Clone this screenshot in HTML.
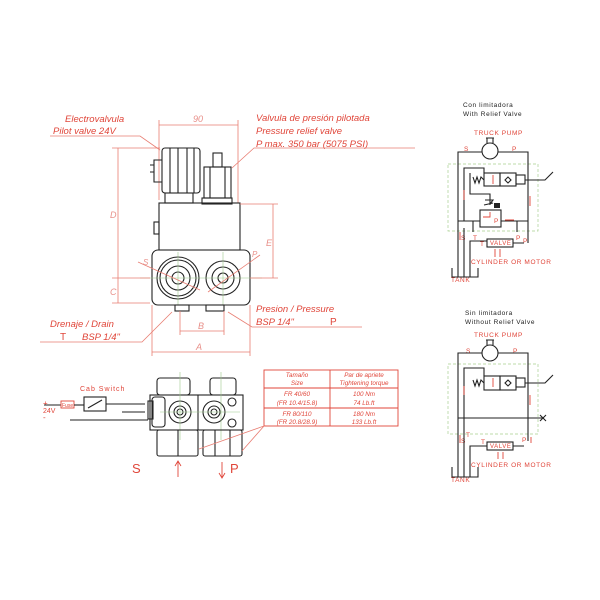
<!DOCTYPE html>
<html><head><style>
html,body{margin:0;padding:0;background:#fff}
svg{display:block}
.r{fill:#e0463a;font-family:"Liberation Sans",sans-serif;font-style:italic}
.rn{fill:#e0463a;font-family:"Liberation Sans",sans-serif}
.k{fill:none;stroke:#222;stroke-width:1.1}
.d{fill:none;stroke:#e87d72;stroke-width:.8}
.g{fill:none;stroke:#9cc98a;stroke-width:.6}
.gd{fill:none;stroke:#a7cf8f;stroke-width:.7;stroke-dasharray:3,2}
.rl{fill:none;stroke:#e0463a;stroke-width:.9}
</style></head><body>
<svg width="600" height="600" viewBox="0 0 600 600" xmlns="http://www.w3.org/2000/svg">
<text class="r" x="65" y="122" font-size="9.5">Electrovalvula</text>
<text class="r" x="53" y="134" font-size="9.5">Pilot valve 24V</text>
<polyline class="d" points="50,136 140,136 160,150"/>
<text class="r" x="256" y="121" font-size="9.5">Valvula de presión pilotada</text>
<text class="r" x="256" y="134" font-size="9.5">Pressure relief valve</text>
<text class="r" x="256" y="147" font-size="9.5">P max. 350 bar (5075 PSI)</text>
<polyline class="d" points="415,148 254,148 232,168"/>
<line class="d" x1="159" y1="125" x2="238" y2="125"/>
<line class="d" x1="159" y1="120" x2="159" y2="200"/>
<line class="d" x1="238" y1="120" x2="238" y2="203"/>
<text class="r" x="193" y="122" font-size="9" style="fill:#e8908a">90</text>
<rect class="k" x="162" y="148" width="38" height="45" rx="3"/>
<line class="k" x1="170" y1="148" x2="170" y2="193"/><line class="k" x1="178" y1="148" x2="178" y2="193"/>
<line class="k" x1="187" y1="148" x2="187" y2="193"/><line class="k" x1="194" y1="148" x2="194" y2="193"/>
<path class="k" d="M162 160 h-8 v22 h8 M150 165 h4 M150 172 h4"/>
<rect class="k" x="165" y="193" width="28" height="10"/>
<rect class="k" x="213" y="153" width="9" height="14"/>
<rect class="k" x="204" y="167" width="27" height="31"/>
<line class="k" x1="210" y1="167" x2="210" y2="198"/><line class="k" x1="225" y1="167" x2="225" y2="198"/>
<rect class="k" x="202" y="198" width="30" height="6"/>
<rect class="k" x="159" y="203" width="81" height="47"/>
<rect class="k" x="154" y="222" width="5" height="12"/>
<rect class="k" x="152" y="250" width="98" height="55" rx="6"/>
<circle class="k" cx="178" cy="278" r="21"/><circle class="k" cx="178" cy="278" r="18"/>
<circle class="k" cx="178" cy="278" r="12"/><circle class="k" cx="178" cy="278" r="6"/>
<circle class="k" cx="223" cy="278" r="17"/><circle class="k" cx="223" cy="278" r="11"/><circle class="k" cx="223" cy="278" r="5"/>
<line class="g" x1="140" y1="278" x2="262" y2="278"/><line class="g" x1="178" y1="252" x2="178" y2="305"/><line class="g" x1="223" y1="252" x2="223" y2="305"/>
<rect class="k" x="175" y="305" width="14" height="6"/><rect class="k" x="206" y="305" width="18" height="6"/>
<line class="d" x1="138" y1="262" x2="200" y2="290"/><text class="r" x="143" y="265" font-size="8" style="fill:#e8908a">S</text>
<line class="d" x1="260" y1="255" x2="208" y2="292"/><text class="r" x="252" y="257" font-size="8" style="fill:#e8908a">P</text>
<line class="d" x1="118" y1="148" x2="118" y2="303"/>
<line class="d" x1="112" y1="148" x2="160" y2="148"/><line class="d" x1="112" y1="278" x2="150" y2="278"/><line class="d" x1="112" y1="303" x2="150" y2="303"/>
<text class="r" x="110" y="218" font-size="9" style="fill:#e8908a">D</text>
<text class="r" x="110" y="295" font-size="9" style="fill:#e8908a">C</text>
<line class="d" x1="273" y1="204" x2="273" y2="278"/><line class="d" x1="240" y1="204" x2="278" y2="204"/><line class="d" x1="250" y1="278" x2="278" y2="278"/>
<text class="r" x="266" y="246" font-size="9" style="fill:#e8908a">E</text>
<line class="d" x1="180" y1="331" x2="224" y2="331"/><line class="d" x1="180" y1="311" x2="180" y2="335"/><line class="d" x1="224" y1="311" x2="224" y2="335"/>
<text class="r" x="198" y="329" font-size="9" style="fill:#e8908a">B</text>
<line class="d" x1="152" y1="352" x2="250" y2="352"/><line class="d" x1="152" y1="305" x2="152" y2="356"/><line class="d" x1="250" y1="305" x2="250" y2="356"/>
<text class="r" x="196" y="350" font-size="9" style="fill:#e8908a">A</text>
<text class="r" x="256" y="312" font-size="9.5">Presion / Pressure</text>
<text class="r" x="256" y="325" font-size="9.5">BSP 1/4"</text>
<text class="rn" x="330" y="325" font-size="10">P</text>
<polyline class="d" points="228,312 252,327 362,327"/>
<text class="r" x="50" y="327" font-size="9.5">Drenaje / Drain</text>
<text class="rn" x="60" y="340" font-size="10">T</text>
<text class="r" x="82" y="340" font-size="9.5">BSP 1/4"</text>
<polyline class="d" points="40,342 142,342 172,312"/>

<text class="rn" x="80" y="391" font-size="7" letter-spacing="1">Cab Switch</text>
<text class="rn" x="43" y="406" font-size="8">+</text><text class="rn" x="43" y="413" font-size="7">24V</text><text class="rn" x="43" y="420" font-size="8">-</text>
<line class="k" x1="44" y1="405" x2="61" y2="405"/>
<rect class="rl" x="61" y="401" width="13" height="7"/><text class="rn" x="62" y="407" font-size="5">Fuse</text>
<line class="k" x1="74" y1="405" x2="84" y2="405"/>
<rect class="k" x="84" y="397" width="22" height="14"/><line class="k" x1="88" y1="408" x2="102" y2="400"/>
<line class="k" x1="106" y1="404" x2="145" y2="404"/>
<line class="k" x1="122" y1="412" x2="145" y2="412"/><line class="k" x1="70" y1="420" x2="148" y2="420"/>
<rect class="k" x="148" y="401" width="5" height="18"/>
<rect class="k" x="157" y="378" width="33" height="17" rx="3"/><rect class="k" x="210" y="378" width="26" height="17" rx="3"/>
<rect class="k" x="150" y="395" width="93" height="35"/>
<rect class="k" x="152" y="397" width="13" height="30" rx="3"/>
<line class="k" x1="198" y1="395" x2="198" y2="430"/>
<circle class="k" cx="180" cy="412" r="11"/><circle class="k" cx="180" cy="412" r="6"/><circle class="k" cx="180" cy="412" r="3"/>
<circle class="k" cx="214" cy="412" r="11"/><circle class="k" cx="214" cy="412" r="6"/><circle class="k" cx="214" cy="412" r="3"/>
<circle class="k" cx="232" cy="402" r="4"/><circle class="k" cx="232" cy="423" r="4"/>
<line class="g" x1="180" y1="372" x2="180" y2="440"/><line class="g" x1="221" y1="372" x2="221" y2="440"/><line class="g" x1="160" y1="412" x2="240" y2="412"/>
<rect class="k" x="157" y="430" width="41" height="26" rx="2"/><line class="k" x1="178" y1="430" x2="178" y2="456"/>
<rect class="k" x="203" y="430" width="39" height="26" rx="2"/><line class="k" x1="215" y1="430" x2="215" y2="456"/><line class="k" x1="230" y1="430" x2="230" y2="456"/>
<text class="rn" x="132" y="473" font-size="13">S</text>
<path class="rl" d="M178 477 V462 M175 466 L178 461 L181 466"/>
<text class="rn" x="230" y="473" font-size="13">P</text>
<path class="rl" d="M222 462 V477 M219 473 L222 478 L225 473"/>
<rect class="rl" x="264" y="370" width="134" height="56"/>
<line class="rl" x1="264" y1="388" x2="398" y2="388"/><line class="rl" x1="264" y1="408" x2="398" y2="408"/><line class="rl" x1="330" y1="370" x2="330" y2="426"/>
<g class="r" font-size="6.3" text-anchor="middle">
<text x="297" y="377">Tamaño</text><text x="297" y="385">Size</text>
<text x="364" y="377">Par de apriete</text><text x="364" y="385">Tightening torque</text>
<text x="297" y="396">FR 40/60</text><text x="297" y="405">(FR 10.4/15.8)</text>
<text x="364" y="396">100 Nm</text><text x="364" y="405">74 Lb.ft</text>
<text x="297" y="416">FR 80/110</text><text x="297" y="424">(FR 20.8/28.9)</text>
<text x="364" y="416">180 Nm</text><text x="364" y="424">133 Lb.ft</text>
</g>
<polyline class="d" points="199,449 264,426 242,451"/>

<g font-family="Liberation Sans,sans-serif" font-size="6.5" letter-spacing=".6">
<text x="463" y="107" fill="#222">Con limitadora</text><text x="463" y="116" fill="#222">With Relief Valve</text>
<text x="474" y="135" fill="#e0463a">TRUCK PUMP</text>
<text x="464" y="151" fill="#e0463a">S</text><text x="512" y="151" fill="#e0463a">P</text>
<text x="461" y="240" fill="#e0463a">S</text><text x="473" y="240" fill="#e0463a">T</text><text x="480" y="246" fill="#e0463a">T</text>
<text x="516" y="240" fill="#e0463a">P</text><text x="523" y="243" fill="#e0463a">P</text>
<text x="471" y="264" fill="#e0463a">CYLINDER OR MOTOR</text>
<text x="451" y="282" fill="#e0463a">TANK</text>
<text x="490" y="245" fill="#e0463a" font-size="6">VALVE</text>
<text x="494" y="223" fill="#e0463a">P</text>
</g>
<rect class="gd" x="448" y="164" width="90" height="67"/>
<circle class="k" cx="490" cy="151" r="8"/><path class="k" d="M487 143 v-5 M493 143 v-5 M486 138 h8"/>
<path class="k" d="M458 277 V152 H482 M498 152 H528 V243"/>
<path class="k" d="M464 277 V228 M464 221 V168 H484 V173"/>
<rect class="k" x="484" y="173" width="16" height="13"/><rect class="k" x="500" y="173" width="16" height="13"/><rect class="k" x="516" y="175" width="9" height="9"/>
<path class="k" d="M484 180 l-3 -3 l-2 6 l-2 -6 l-2 6 l-2 -6 M525 180 H545 l8 -8"/>
<path class="k" d="M505 180 l3 -3 l3 3 l-3 3 z"/>
<path class="k" d="M470 173 V194 H490 V205"/>
<rect class="k" x="480" y="210" width="21" height="17"/>
<path class="k" d="M485 200 l8 0 l-3 4 M484 205 l9 -2"/><rect x="494" y="203" width="6" height="5" fill="#222"/>
<path class="k" d="M458 221 H480 M501 221 H528 M473 221 V232 M517 221 V232"/>
<path class="rl" d="M490 212 V217 H483 M505 220 H514 M493 184 V175 M464 190 V200 M530 196 V206 M460 240 V232"/>
<rect class="k" x="487" y="239" width="26" height="8"/>
<path class="k" d="M470 277 V241 H487 M513 243 H524"/>
<path class="rl" d="M495 249 V257 M500 249 V257"/>
<path class="k" d="M452 268 V277 H478 V268"/>

<g font-family="Liberation Sans,sans-serif" font-size="6.5" letter-spacing=".6">
<text x="465" y="315" fill="#222">Sin limitadora</text><text x="465" y="324" fill="#222">Without Relief Valve</text>
<text x="474" y="337" fill="#e0463a">TRUCK PUMP</text>
<text x="466" y="353" fill="#e0463a">S</text><text x="513" y="353" fill="#e0463a">P</text>
<text x="461" y="443" fill="#e0463a">S</text><text x="466" y="437" fill="#e0463a">T</text><text x="481" y="444" fill="#e0463a">T</text>
<text x="522" y="442" fill="#e0463a">P</text>
<text x="471" y="467" fill="#e0463a">CYLINDER OR MOTOR</text>
<text x="451" y="482" fill="#e0463a">TANK</text>
<text x="490" y="448" fill="#e0463a" font-size="6">VALVE</text>
</g>
<rect class="gd" x="448" y="364" width="90" height="70"/>
<circle class="k" cx="490" cy="353" r="8"/><path class="k" d="M487 345 v-5 M493 345 v-5 M486 340 h8"/>
<path class="k" d="M458 477 V353 H482 M498 353 H528 V441"/>
<path class="k" d="M464 477 V368 H484 V376"/>
<rect class="k" x="484" y="376" width="16" height="14"/><rect class="k" x="500" y="376" width="16" height="14"/><rect class="k" x="516" y="378" width="9" height="9"/>
<path class="k" d="M484 383 l-3 -3 l-2 6 l-2 -6 l-2 6 l-2 -6 M525 383 H545 l8 -8"/>
<path class="k" d="M505 383 l3 -3 l3 3 l-3 3 z"/>
<path class="k" d="M458 418 H544 M540 415 l6 6 M546 415 l-6 6"/>
<path class="rl" d="M493 387 V378 M464 386 V395 M530 395 V405 M460 443 V435 M531 437 V443"/>
<rect class="k" x="487" y="442" width="26" height="8"/>
<path class="k" d="M470 477 V446 H487 M513 446 H524"/>
<path class="rl" d="M498 452 V459 M503 452 V459"/>
<path class="k" d="M452 467 V477 H478 V467"/>
</svg>
</body></html>
